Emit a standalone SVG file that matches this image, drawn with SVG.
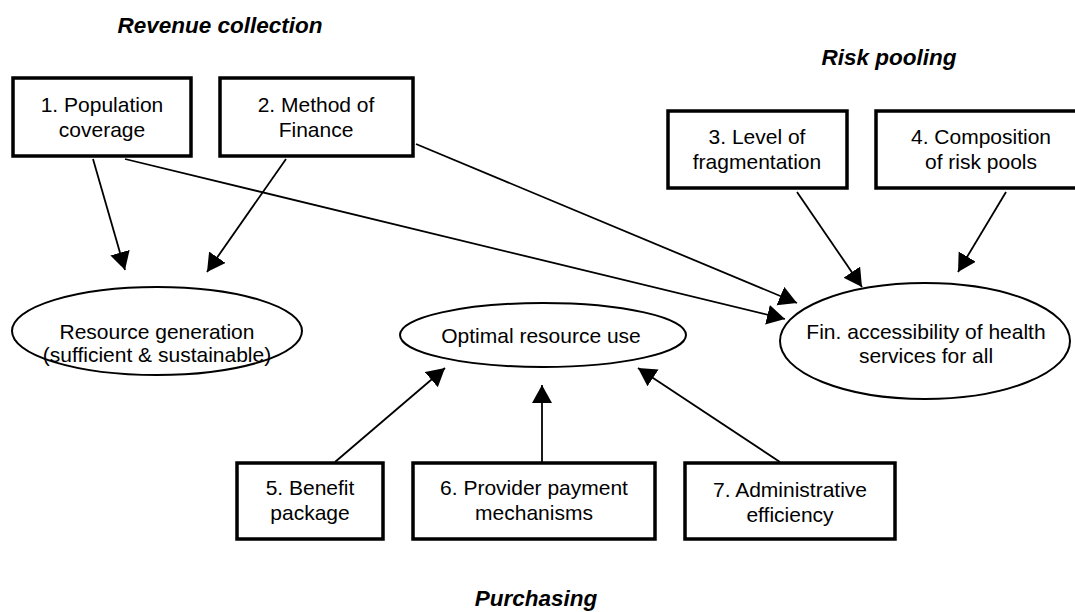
<svg xmlns="http://www.w3.org/2000/svg" width="1075" height="612" viewBox="0 0 1075 612">
<style>
.box{fill:#fff;stroke:#000;stroke-width:3.5}
.ell{fill:#fff;stroke:#000;stroke-width:2}
.t{font-family:"Liberation Sans",Arial,sans-serif;font-size:21px;fill:#000;text-anchor:middle}
.h{font-family:"Liberation Sans",Arial,sans-serif;font-size:22.5px;font-weight:bold;font-style:italic;fill:#000;text-anchor:middle}
.c{stroke:#000;stroke-width:1.8;fill:none;marker-end:url(#ah)}
</style>
<defs>
<marker id="ah" markerUnits="userSpaceOnUse" markerWidth="20" markerHeight="21" refX="18" refY="10" orient="auto">
<path d="M0,0 L18,10 L0,20 z" fill="#000"/>
</marker>
</defs>
<rect width="1075" height="612" fill="#fff"/>
<g id="titles">
<text class="h" x="220" y="33">Revenue collection</text>
<text class="h" x="889" y="65">Risk pooling</text>
<text class="h" x="536" y="606">Purchasing</text>
</g>
<g id="connectors">
<line class="c" x1="93" y1="159" x2="125" y2="270"/>
<line class="c" x1="286" y1="159" x2="207" y2="272"/>
<line class="c" x1="125" y1="159" x2="785" y2="319"/>
<line class="c" x1="416" y1="144" x2="797" y2="303"/>
<line class="c" x1="797" y1="192" x2="862" y2="287"/>
<line class="c" x1="1006" y1="192" x2="958" y2="272"/>
<line class="c" x1="335" y1="462" x2="445" y2="368"/>
<line class="c" x1="542" y1="462" x2="542" y2="385"/>
<line class="c" x1="780" y1="462" x2="638" y2="368"/>
</g>
<g id="n1"><rect class="box" x="13" y="78" width="178" height="78"/><text class="t" x="102" y="112">1. Population</text><text class="t" x="102" y="137">coverage</text></g>
<g id="n2"><rect class="box" x="220" y="78" width="193" height="78"/><text class="t" x="316" y="112">2. Method of</text><text class="t" x="316" y="137">Finance</text></g>
<g id="n3"><rect class="box" x="668" y="111" width="179" height="77"/><text class="t" x="757" y="144">3. Level of</text><text class="t" x="757" y="169">fragmentation</text></g>
<g id="n4"><rect class="box" x="876" y="111" width="210" height="77"/><text class="t" x="981" y="144">4. Composition</text><text class="t" x="981" y="169">of risk pools</text></g>
<g id="n5"><rect class="box" x="237" y="463" width="146" height="76"/><text class="t" x="310" y="495">5. Benefit</text><text class="t" x="310" y="520">package</text></g>
<g id="n6"><rect class="box" x="413" y="463" width="242" height="76"/><text class="t" x="534" y="495">6. Provider payment</text><text class="t" x="534" y="520">mechanisms</text></g>
<g id="n7"><rect class="box" x="685" y="463" width="210" height="76"/><text class="t" x="790" y="497">7. Administrative</text><text class="t" x="790" y="522">efficiency</text></g>
<g id="e1"><ellipse class="ell" cx="157" cy="331" rx="145" ry="44"/><text class="t" x="157" y="339">Resource generation</text><text class="t" x="157" y="362">(sufficient &amp; sustainable)</text></g>
<g id="e2"><ellipse class="ell" cx="543" cy="335" rx="143" ry="32"/><text class="t" x="541" y="343">Optimal resource use</text></g>
<g id="e3"><ellipse class="ell" cx="925" cy="341" rx="145" ry="58"/><text class="t" x="926" y="339">Fin. accessibility of health</text><text class="t" x="926" y="363">services for all</text></g>
</svg>
